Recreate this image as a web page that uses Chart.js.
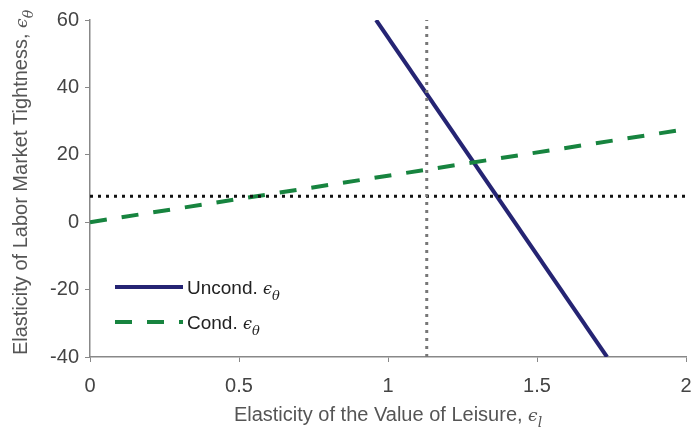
<!DOCTYPE html>
<html>
<head>
<meta charset="utf-8">
<script src="https://cdn.jsdelivr.net/npm/chart.js@4/dist/chart.umd.min.js"></script>
<style>
  html, body { margin: 0; padding: 0; background: #fff; }
  #wrap { width: 694px; height: 427px; }
</style>
</head>
<body>
<div id="wrap"><canvas id="canvasLines"></canvas></div>
<script>
// data
const uncondX = [0.96, 1.735];
const uncondY = [60, -40];
const condX = [0, 2];
const condY = [0, 27.6];
const hLineX = [0, 2];
const hLineY = [7.7, 7.7];
const vLineX = [1.13, 1.13];
const vLineY = [-40, 60];
const xTicks = [0, 0.5, 1, 1.5, 2];
const yTicks = [-40, -20, 0, 20, 40, 60];
const legendNames = ['Uncond.', 'Cond.'];

const navy = '#252473';
const green = '#17843f';
const sans = '"Liberation Sans", Arial, sans-serif';

function pts(xs, ys) {
  return xs.map((x, i) => ({ x: x, y: ys[i] }));
}

// draws "text ϵ_sub" starting at x (or centred on x)
function textWithSub(ctx, text, sub, x, y, size, centre) {
  const epsSize = Math.round(size * 0.85);
  const subSize = Math.round(size * 0.7);
  ctx.font = size + 'px ' + sans;
  const w1 = ctx.measureText(text + ' ').width;
  ctx.font = 'italic ' + epsSize + 'px "DejaVu Serif", serif';
  const w2 = ctx.measureText('ϵ').width;
  ctx.font = 'italic ' + subSize + 'px "DejaVu Serif", serif';
  const w3 = ctx.measureText(sub).width;
  let x0 = centre ? x - (w1 + w2 + w3) / 2 : x;
  ctx.textAlign = 'left';
  ctx.textBaseline = 'alphabetic';
  ctx.font = size + 'px ' + sans;
  ctx.fillText(text + ' ', x0, y);
  ctx.font = 'italic ' + epsSize + 'px "DejaVu Serif", serif';
  ctx.fillText('ϵ', x0 + w1, y);
  ctx.font = 'italic ' + subSize + 'px "DejaVu Serif", serif';
  ctx.fillText(sub, x0 + w1 + w2, y + size * 0.3);
}

const textPlugin = {
  id: 'textPlugin',
  afterDraw(chart) {
    const ctx = chart.ctx;
    const a = chart.chartArea;
    ctx.save();
    ctx.fillStyle = '#555';
    // x title
    textWithSub(ctx, 'Elasticity of the Value of Leisure,', 'l', (a.left + a.right) / 2, 421, 20, true);
    // y title
    ctx.translate(27, (a.top + a.bottom) / 2 - 6);
    ctx.rotate(-Math.PI / 2);
    textWithSub(ctx, 'Elasticity of Labor Market Tightness,', 'θ', 0, 0, 20, true);
    ctx.restore();

    // legend
    ctx.save();
    const rows = [
      { y: 287, color: navy, dash: [] },
      { y: 322, color: green, dash: [17, 15] }
    ];
    rows.forEach((r, i) => {
      ctx.strokeStyle = r.color;
      ctx.lineWidth = 4;
      ctx.setLineDash(r.dash);
      ctx.beginPath();
      ctx.moveTo(115, r.y);
      ctx.lineTo(183, r.y);
      ctx.stroke();
      ctx.fillStyle = '#222';
      textWithSub(ctx, legendNames[i], 'θ', 187, r.y + 7, 19, false);
    });
    ctx.restore();
  }
};

const ctx = document.getElementById('canvasLines').getContext('2d');
const lineChart = new Chart(ctx, {
  type: 'scatter',
  data: {
    datasets: [
      {
        data: pts(vLineX, vLineY),
        showLine: true, borderColor: '#777', borderWidth: 3,
        borderDash: [3, 5], pointRadius: 0
      },
      {
        data: pts(hLineX, hLineY),
        showLine: true, borderColor: '#111', borderWidth: 3,
        borderDash: [3, 5], pointRadius: 0
      },
      {
        data: pts(condX, condY),
        showLine: true, borderColor: green, borderWidth: 4,
        borderDash: [17, 15], pointRadius: 0
      },
      {
        data: pts(uncondX, uncondY),
        showLine: true, borderColor: navy, borderWidth: 4,
        pointRadius: 0
      }
    ]
  },
  options: {
    responsive: true,
    maintainAspectRatio: false,
    animation: false,
    layout: { padding: { top: 20, right: 8, left: 0, bottom: 0 } },
    plugins: { legend: { display: false }, tooltip: { enabled: false } },
    scales: {
      x: {
        type: 'linear', min: 0, max: 2,
        afterFit(scale) {
          scale.height = 70;
          scale.paddingRight = 0;
          scale.paddingLeft = 0;
        },
        afterBuildTicks(scale) { scale.ticks = xTicks.map(v => ({ value: v })); },
        grid: { drawOnChartArea: false, tickLength: 5, color: '#888' },
        border: { color: '#888', width: 1.5 },
        ticks: {
          color: '#444', font: { family: sans, size: 20 }, padding: 12,
          callback: v => String(v)
        }
      },
      y: {
        type: 'linear', min: -40, max: 60,
        afterFit(scale) {
          scale.width = 90;
          scale.paddingTop = 0;
          scale.paddingBottom = 0;
        },
        afterBuildTicks(scale) { scale.ticks = yTicks.map(v => ({ value: v })); },
        grid: { drawOnChartArea: false, tickLength: 5, color: '#888' },
        border: { color: '#888', width: 1.5 },
        ticks: {
          color: '#444', font: { family: sans, size: 20 }, padding: 6,
          callback: v => String(v)
        }
      }
    }
  },
  plugins: [textPlugin]
});
</script>
</body>
</html>
